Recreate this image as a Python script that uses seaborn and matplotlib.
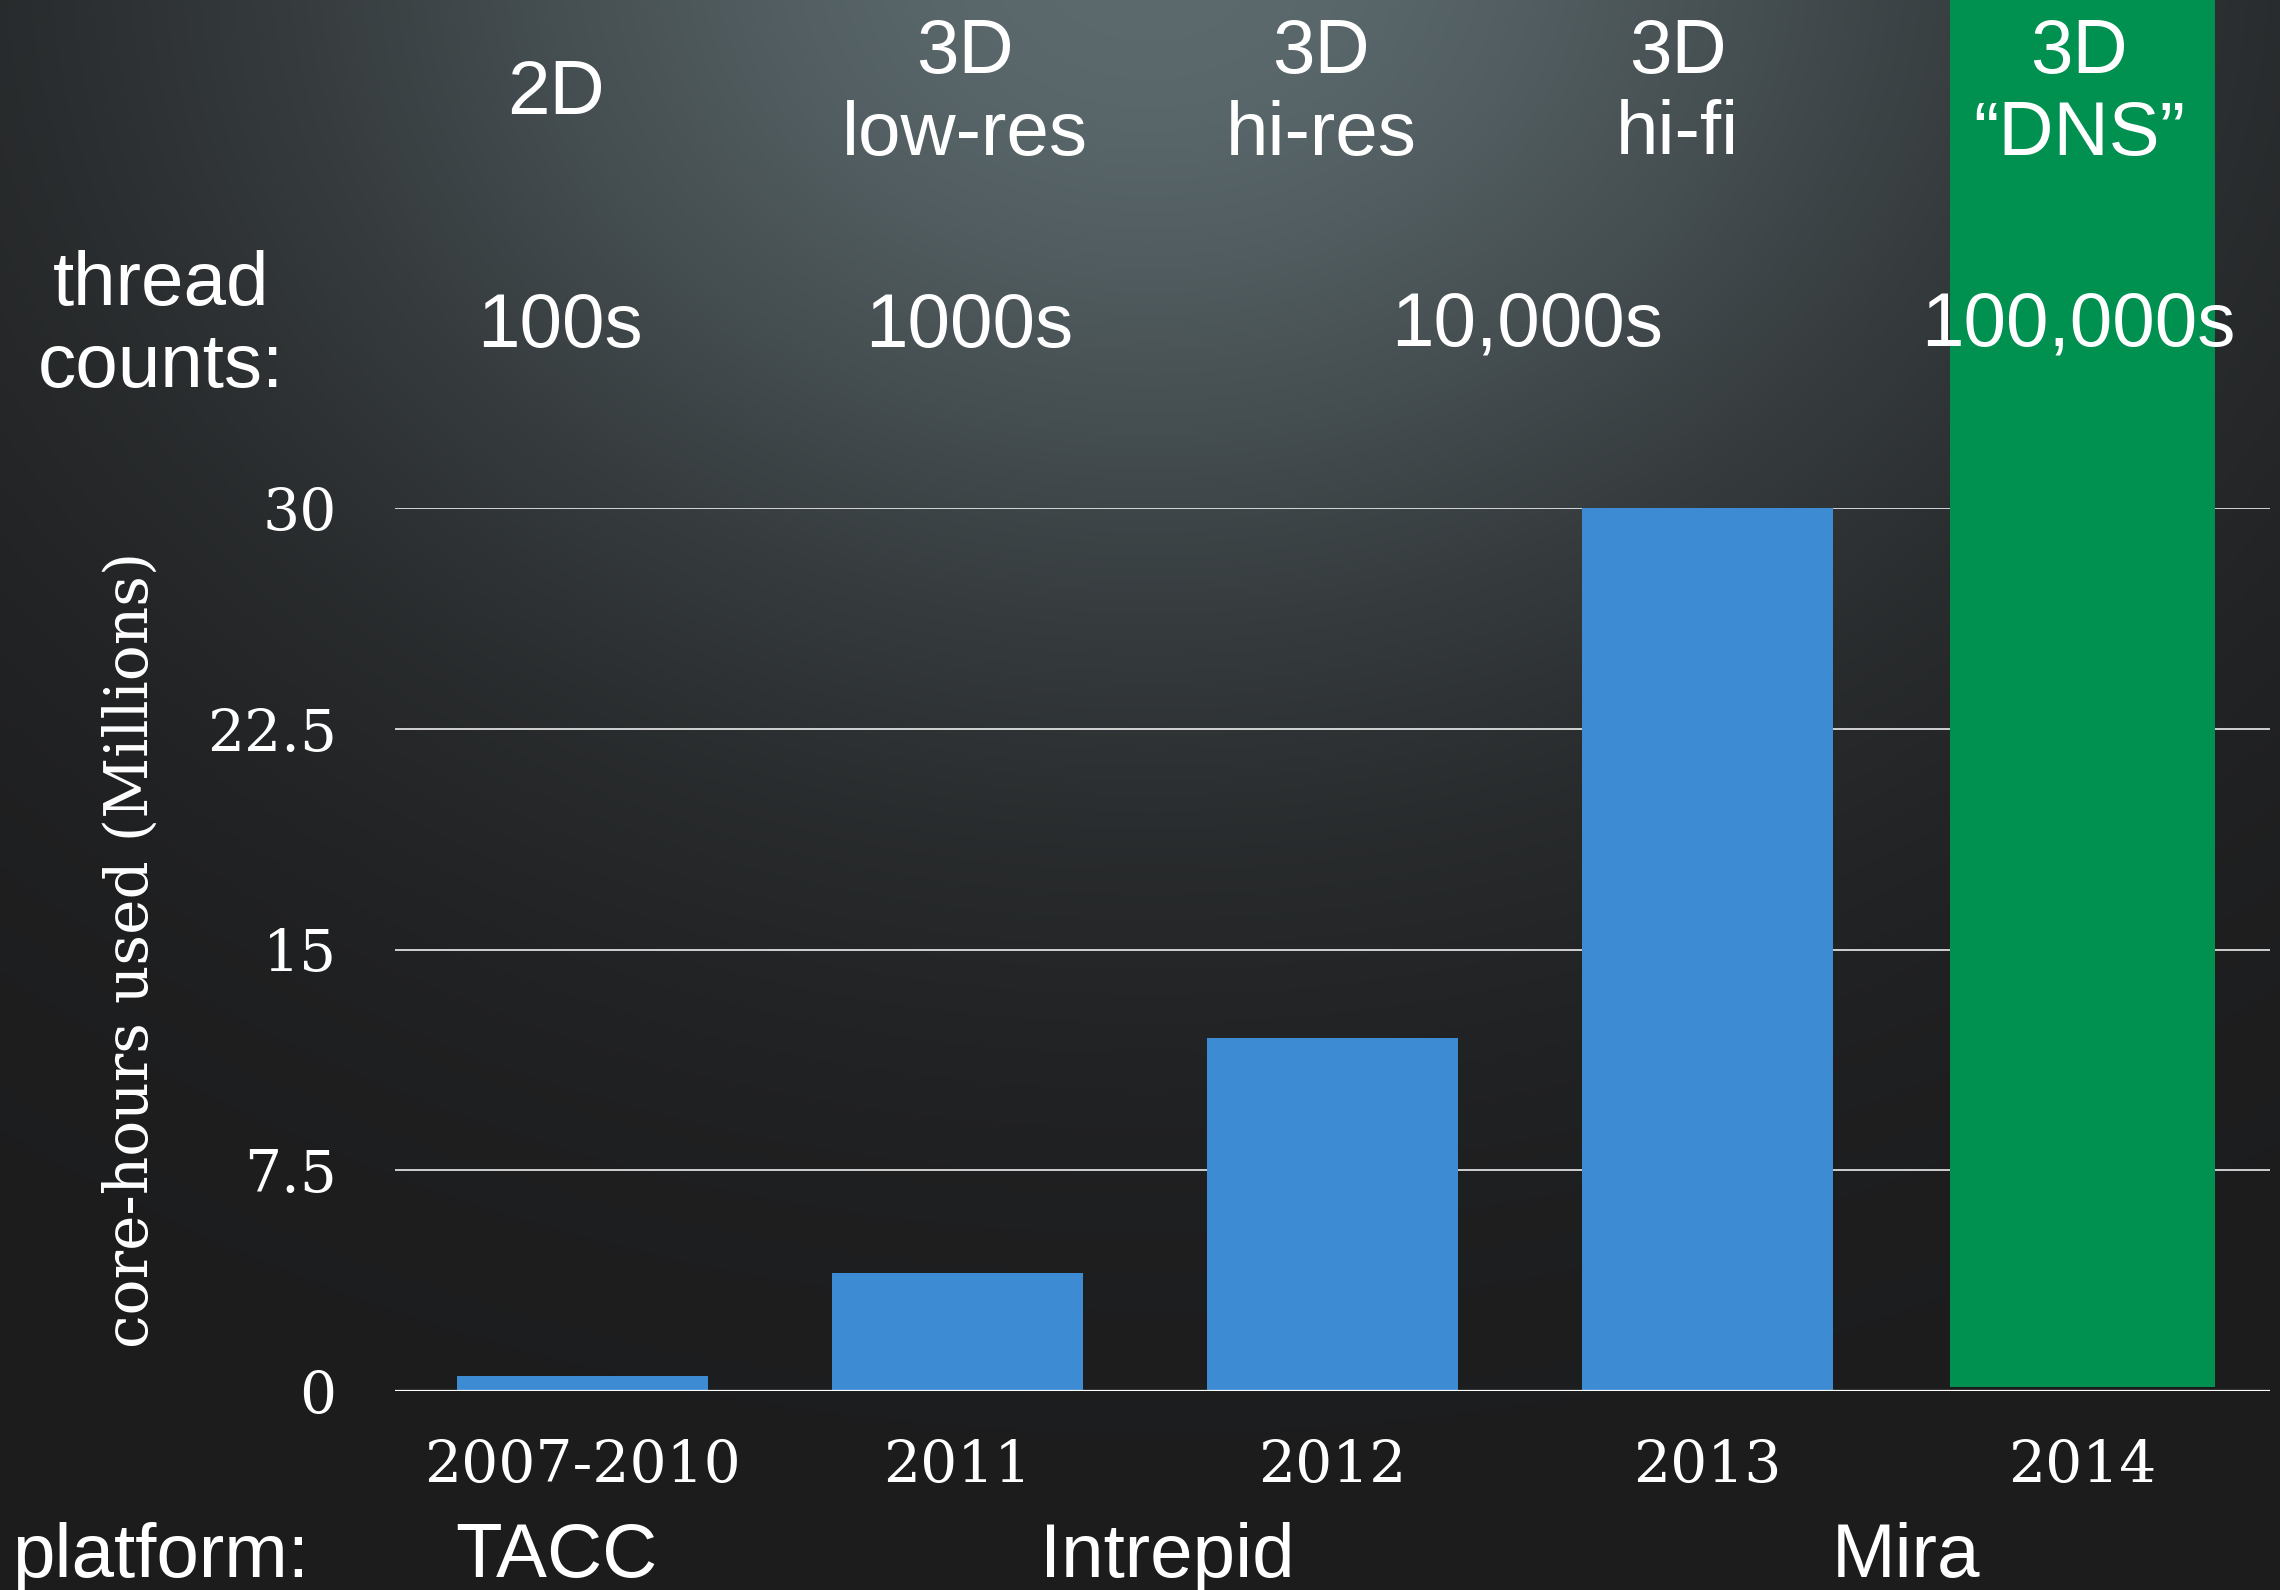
import numpy as np
import pandas as pd
import seaborn as sns
import matplotlib
matplotlib.use("Agg")
import matplotlib.pyplot as plt

# ---- data -------------------------------------------------------------
years = ["2007-2010", "2011", "2012", "2013", "2014"]
core_hours = [0.5, 4.0, 12.0, 30.0, np.nan]      # millions of core-hours
highlight_year = "2014"                           # drawn as a full-height column
sim_types = ["2D", "3D\nlow-res", "3D\nhi-res", "3D\nhi-fi", "3D\n\u201cDNS\u201d"]
thread_counts = ["100s", "1000s", "10,000s", "100,000s"]
platforms = ["TACC", "Intrepid", "Mira"]
y_ticks = [0, 7.5, 15, 22.5, 30]
y_tick_labels = ["0", "7.5", "15", "22.5", "30"]

# ---- label placement (x in category units) ----------------------------
sim_x = [-0.07, 1.02, 1.97, 2.92, 3.99]
thread_x = [-0.06, 1.03, 2.52, 3.99]
platform_x = [-0.07, 1.56, 3.53]

BLUE = "#3d8bd3"
GREEN = "#009050"
SANS = ["Liberation Sans", "DejaVu Sans"]
SERIF = ["DejaVu Serif"]

sns.set_theme(style="dark")
plt.rcParams["font.family"] = SANS

W, H, DPI = 2280, 1590, 100
fig = plt.figure(figsize=(W / DPI, H / DPI), dpi=DPI)

# dark radial backdrop, lighter towards the top centre
bg = fig.add_axes([0, 0, 1, 1], zorder=-10)
gx, gy = np.meshgrid(np.linspace(0, W, 456), np.linspace(0, H, 318))
d2 = ((gx - 1150) / 1150.0) ** 2 + ((gy + 50) / 900.0) ** 2
w = np.exp(-1.6 * d2)[..., None]
c_in = np.array([92, 106, 110]) / 255.0
c_out = np.array([28, 28, 29]) / 255.0
img = c_out + (c_in - c_out) * w
bg.imshow(img, aspect="auto", extent=[0, 1, 0, 1], origin="upper", interpolation="bilinear")
bg.set_axis_off()

ax = fig.add_axes([395 / W, 199 / H, 1875 / W, 883 / H])
ax.set_facecolor("none")

df = pd.DataFrame({"year": years, "core_hours": core_hours})
sns.barplot(data=df, x="year", y="core_hours", order=years, color=BLUE,
            saturation=1, width=0.667, linewidth=0, ax=ax, zorder=2)

ax.set_xlim(-0.5, len(years) - 0.5)
ax.set_ylim(0, 30)
ax.set_yticks(y_ticks, y_tick_labels)

# highlighted column rising to the top of the canvas
fig.canvas.draw()
top = ax.transData.inverted().transform(fig.transFigure.transform((0, 1)))[1]
hi = years.index(highlight_year)
bottom = 0.12
ax.bar(hi, top - bottom, bottom=bottom, width=0.707, color=GREEN,
       linewidth=0, clip_on=False, zorder=2)

ax.grid(axis="y", color="white", linewidth=1.1, zorder=0)
ax.grid(axis="x", visible=False)
ax.set_axisbelow(True)
ax.axhline(0, color="white", linewidth=1.6, zorder=4)
for s in ax.spines.values():
    s.set_visible(False)

ax.tick_params(axis="y", length=0, pad=42, labelsize=42, labelcolor="white")
ax.tick_params(axis="x", length=0, pad=34, labelsize=42, labelcolor="white")
for lab in ax.get_xticklabels() + ax.get_yticklabels():
    lab.set_fontfamily(SERIF)

ax.set_xlabel("")
ax.set_ylabel("core-hours used (Millions)", fontsize=43, color="white", family=SERIF)
ax.yaxis.label.set_va("center")
ax.yaxis.label.set_ha("center")
ax.yaxis.set_label_coords((131 - 395) / 1875, 0.5)

# header rows and platform row
blend = matplotlib.transforms.blended_transform_factory(ax.transData, fig.transFigure)
for x, t in zip(sim_x, sim_types):
    ax.text(x, 1 - 94 / H, t, transform=blend, ha="center", va="center",
            multialignment="center", fontsize=55, color="white", linespacing=1.2,
            clip_on=False)
fig.text(161 / W, 1 - 327 / H, "thread\ncounts:", ha="center", va="center",
         multialignment="center", fontsize=55, color="white", linespacing=1.2)
for x, t in zip(thread_x, thread_counts):
    ax.text(x, 1 - 327 / H, t, transform=blend, ha="center", va="center",
            fontsize=55, color="white", clip_on=False, zorder=5)

fig.text(161 / W, 1 - 1577 / H, "platform:", ha="center", va="baseline",
         fontsize=55, color="white")
for x, t in zip(platform_x, platforms):
    ax.text(x, 1 - 1577 / H, t, transform=blend, ha="center", va="baseline",
            fontsize=55, color="white", clip_on=False)

fig.savefig("out.png", dpi=DPI)
